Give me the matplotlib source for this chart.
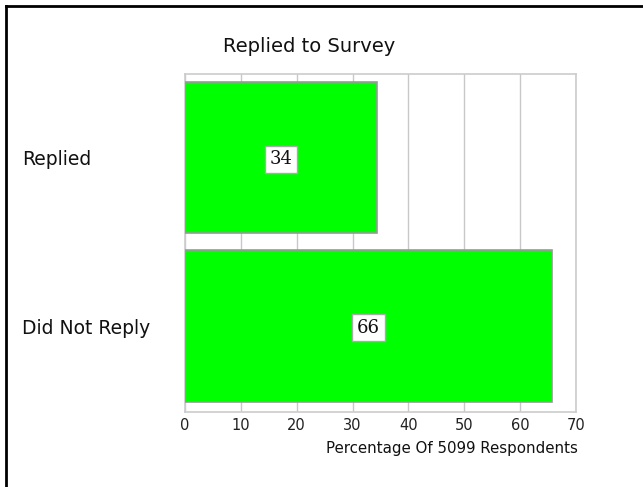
import matplotlib
matplotlib.use("Agg")
import matplotlib.pyplot as plt
from matplotlib.lines import Line2D

categories = ["Replied", "Did Not Reply"]
values = [34.3, 65.7]
xticks = [0, 10, 20, 30, 40, 50, 60, 70]
title = "Replied to Survey"
xlabel = "Percentage Of 5099 Respondents"

W, H = 643, 487
fig = plt.figure(figsize=(W / 100, H / 100), dpi=100)
plt.rcParams['font.family'] = ['DejaVu Sans']

ax = fig.add_axes([185 / W, (H - 412) / H, 391 / W, 338 / H])
ypos = list(range(len(categories)))
ax.barh(ypos, values, height=0.9, color="#00ff00", edgecolor="#999999", linewidth=1.2, zorder=3)
ax.set_ylim(1.51, -0.495)
ax.set_xlim(0, 70)
ax.set_xticks(xticks)
ax.set_xticklabels([str(t) for t in xticks], fontsize=10.5, color="#222222")
ax.tick_params(axis="x", length=0, pad=4)
ax.set_yticks(ypos)
ax.set_yticklabels(categories, fontsize=13.5, color="#111111", ha="left")
ax.tick_params(axis="y", length=0, pad=163 * 0.72)
ax.grid(axis="x", color="#c8c8c8", linewidth=1, zorder=0)
ax.set_axisbelow(True)
for s in ax.spines.values():
    s.set_color("#cccccc")
    s.set_linewidth(1.2)

for y, v in zip(ypos, values):
    ax.text(v / 2, y + 0.01, f"{v:.0f}", ha="center", va="center", fontsize=13,
            family="DejaVu Serif", color="#111111", zorder=5,
            bbox=dict(boxstyle="square,pad=0.25", facecolor="white", edgecolor="#aaaaaa", linewidth=1))

fig.text(309 / W, 1 - 47 / H, title, ha="center", va="center", fontsize=14, color="#111111")
fig.text(578 / W, 1 - 448 / H, xlabel, ha="right", va="center", fontsize=10.8, color="#111111")

fig.add_artist(Line2D([6 / W, 6 / W], [0, 1 - 6 / H], transform=fig.transFigure, color="black", linewidth=2))
fig.add_artist(Line2D([6 / W, 1], [1 - 6 / H, 1 - 6 / H], transform=fig.transFigure, color="black", linewidth=2))

fig.savefig("out.png", dpi=100, facecolor="white")
